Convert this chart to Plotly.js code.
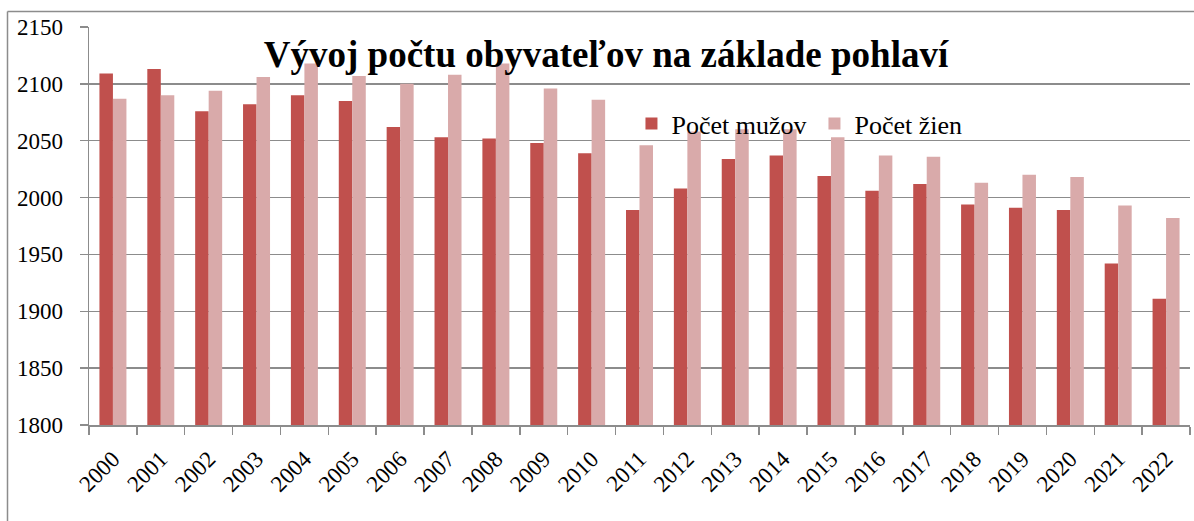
<!DOCTYPE html>
<html>
<head>
<meta charset="utf-8">
<script src="https://cdn.plot.ly/plotly-3.0.1.min.js"></script>
<style>
html,body{margin:0;padding:0;background:#fff;}
#chart{width:1194px;height:521px;}
</style>
</head>
<body>
<div id="chart"></div>
<script>
const years = ["2000","2001","2002","2003","2004","2005","2006","2007","2008","2009","2010","2011","2012","2013","2014","2015","2016","2017","2018","2019","2020","2021","2022"];
const men   = [2109,2113,2076,2082,2090,2085,2062,2053,2052,2048,2039,1989,2008,2034,2037,2019,2006,2012,1994,1991,1989,1942,1911];
const women = [2087,2090,2094,2106,2118,2107,2100,2108,2118,2096,2086,2046,2058,2060,2060,2053,2037,2036,2013,2020,2018,1993,1982];
const seriesNames = ["Počet mužov","Počet žien"];
const titleText = "Vývoj počtu obyvateľov na základe pohlaví";
const yTicks = [1800,1850,1900,1950,2000,2050,2100,2150];

const font = "Liberation Serif";
const gray = "#8c8c8c";

const traces = [
  {type:"bar", name:seriesNames[0], x:years, y:men, marker:{color:"#C0504D"}},
  {type:"bar", name:seriesNames[1], x:years, y:women, marker:{color:"#D9AAAA"}}
];

const layout = {
  width:1194, height:521,
  margin:{l:89, r:4, t:27, b:96, pad:0},
  paper_bgcolor:"#fff", plot_bgcolor:"#fff",
  font:{family:font, size:23, color:"#000"},
  barmode:"group", bargap:0.436, bargroupgap:0,
  showlegend:true,
  title:{text:"<b>"+titleText+"</b>", font:{family:font, size:37, color:"#000"},
         x:606/1194, xref:"container", xanchor:"center",
         y:1-54/521, yref:"container", yanchor:"middle"},
  legend:{orientation:"h", x:0.4927, xanchor:"left", y:0.757, yanchor:"middle",
          font:{family:font, size:26, color:"#000"}, bgcolor:"rgba(0,0,0,0)",
          entrywidth:138, entrywidthmode:"pixels", itemwidth:30, traceorder:"normal"},
  xaxis:{type:"category", tickangle:-45, tickfont:{family:font, size:23, color:"#000"},
         ticks:"outside", ticklen:8, tickwidth:1.5, tickcolor:gray, tickson:"boundaries",
         ticklabelstandoff:10,
         showline:true, linecolor:gray, linewidth:1.5, showgrid:false, zeroline:false,
         fixedrange:true},
  yaxis:{range:[1800,2150], tickvals:yTicks, ticktext:yTicks.map(String),
         tickfont:{family:font, size:23, color:"#000"},
         ticks:"outside", ticklen:8, tickwidth:1.5, tickcolor:gray, ticklabelstandoff:12,
         showline:true, linecolor:gray, linewidth:1.5,
         showgrid:true, gridcolor:gray, gridwidth:1.5, zeroline:false, fixedrange:true},
  shapes:[
    {type:"line", xref:"paper", yref:"paper", x0:(7.5-89)/1101, x1:(7.5-89)/1101, y0:(425-11.5)/398, y1:(425-530)/398, line:{color:gray, width:1.5}},
    {type:"line", xref:"paper", yref:"paper", x0:(7.5-89)/1101, x1:(1200-89)/1101, y0:(425-11.5)/398, y1:(425-11.5)/398, line:{color:gray, width:1.5}}
  ]
};

Plotly.newPlot("chart", traces, layout, {displayModeBar:false, staticPlot:true});
</script>
</body>
</html>
